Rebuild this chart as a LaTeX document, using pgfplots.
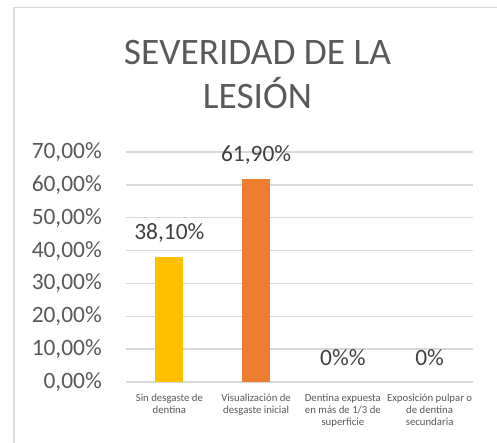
\documentclass[border=0pt]{standalone}
\usepackage{pgfplots}
\pgfplotsset{compat=1.18}
\usepackage{fontspec}
\setmainfont{Carlito}
\definecolor{gridc}{HTML}{D9D9D9}
\definecolor{txt}{HTML}{595959}
\definecolor{lab}{HTML}{404040}
\definecolor{yel}{HTML}{FFC000}
\definecolor{ora}{HTML}{ED7D31}
\begin{document}
\begin{tikzpicture}
\useasboundingbox (-126bp,-61bp) rectangle (371bp,382bp);
\draw[gridc, line width=1.5bp] (-112bp,-61bp) -- (-112bp,374.5bp) -- (371bp,374.5bp);
\begin{axis}[
  at={(0,0)}, anchor=south west,
  scale only axis, width=347bp, height=230bp,
  xmin=-0.5, xmax=3.5, ymin=0, ymax=70,
  axis line style={draw=none},
  major tick length=0pt,
  ymajorgrids, grid style={gridc, line width=1.3bp},
  ytick={0,10,...,70},
  yticklabels={{0,00\%},{10,00\%},{20,00\%},{30,00\%},{40,00\%},{50,00\%},{60,00\%},{70,00\%}},
  xtick={0,1,2,3},
  xticklabels={{Sin desgaste de\\dentina},{Visualización de\\desgaste inicial},{Dentina expuesta\\en más de 1/3 de\\superficie},{Exposición pulpar o\\de dentina\\secundaria}},
  xticklabel style={align=center, font=\fontsize{10.8}{12}\selectfont, text=txt, inner sep=0pt, anchor=north, yshift=-12bp},
  yticklabel style={font=\fontsize{23.5}{28}\selectfont, text=txt, inner sep=0pt, anchor=east, xshift=-24bp},
  ybar, bar width=28bp,
  nodes near coords, point meta=explicit symbolic,
  every node near coord/.append style={font=\fontsize{23.5}{28}\selectfont, text=lab, anchor=base, inner sep=0pt, yshift=17bp},
]
\addplot[fill=yel, draw=none, bar shift=0pt] coordinates {(0,38.1) [38,10\%]};
\addplot[fill=ora, draw=none, bar shift=0pt] coordinates {(1,61.9) [61,90\%]};
\addplot[fill=none, draw=none, bar shift=0pt] coordinates {(2,0) [0\%\%] (3,0) [0\%]};
\end{axis}
\node[font=\fontsize{37.5}{44}\selectfont, text=txt, anchor=base] at (131.5bp,317.7bp) {SEVERIDAD DE LA};
\node[font=\fontsize{37.5}{44}\selectfont, text=txt, anchor=base] at (131.5bp,273.7bp) {LESIÓN};
\end{tikzpicture}
\end{document}
